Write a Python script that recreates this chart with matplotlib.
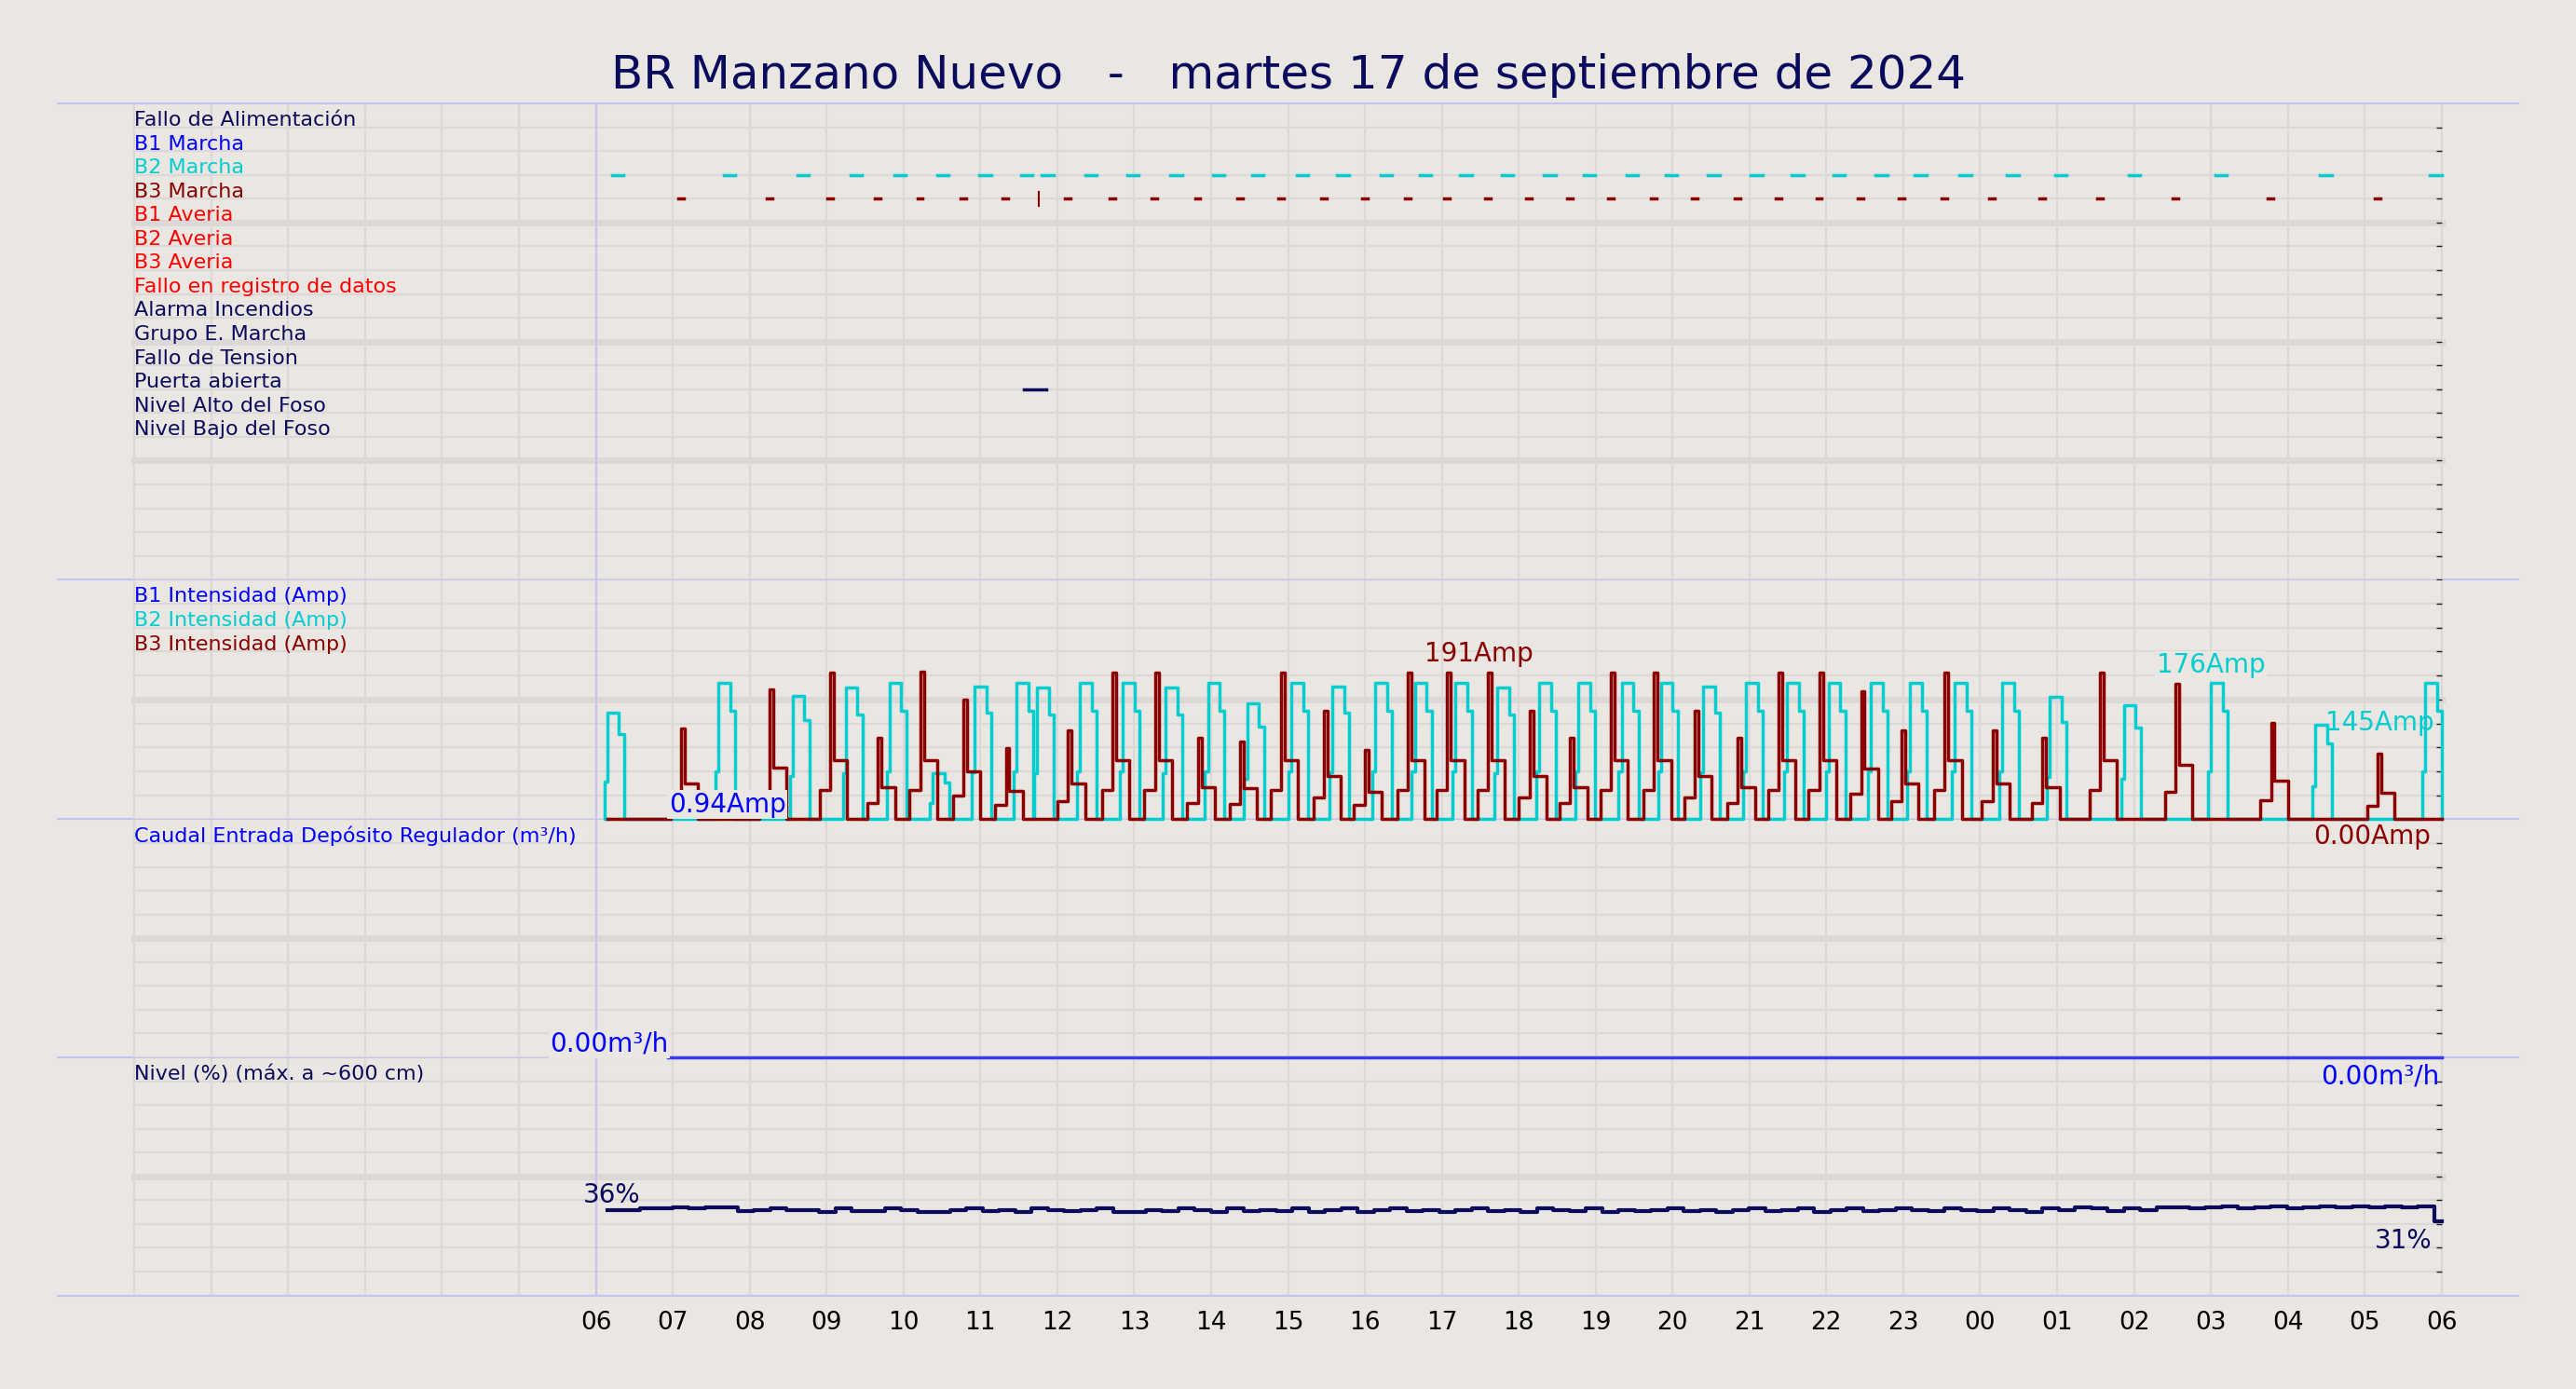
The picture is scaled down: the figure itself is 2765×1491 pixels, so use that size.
import numpy as np
import matplotlib
matplotlib.use("Agg")
from matplotlib import pyplot as plt

BG = "#eae6e1"
NAVY = "#0b0b5e"
CYAN = "#00cdd0"
DRED = "#8b0000"

title = "BR Manzano Nuevo   -   martes 17 de septiembre de 2024"
hour_labels = ["06", "07", "08", "09", "10", "11", "12", "13", "14", "15", "16", "17", "18",
               "19", "20", "21", "22", "23", "00", "01", "02", "03", "04", "05", "06"]

signal_names = ["Fallo de Alimentación", "B1 Marcha", "B2 Marcha", "B3 Marcha", "B1 Averia",
                "B2 Averia", "B3 Averia", "Fallo en registro de datos", "Alarma Incendios",
                "Grupo E. Marcha", "Fallo de Tension", "Puerta abierta", "Nivel Alto del Foso",
                "Nivel Bajo del Foso"]
signal_colors = [NAVY, "blue", CYAN, DRED, "red", "red", "red", "red", NAVY, NAVY, NAVY, NAVY, NAVY, NAVY]

# hours since 06:00
b2_marcha = [0.21, 1.66, 2.62, 3.31, 3.88, 4.44, 4.99, 5.53, 5.80, 6.36, 6.91, 7.47, 8.02, 8.53,
             9.11, 9.64, 10.20, 10.71, 11.24, 11.78, 12.33, 12.84, 13.40, 13.91, 14.46, 15.02,
             15.55, 16.09, 16.64, 17.15, 17.73, 18.35, 18.97, 19.93, 21.06, 22.42, 23.85]
b3_marcha = [1.07, 2.22, 3.01, 3.63, 4.18, 4.74, 5.29, 6.10, 6.68, 7.23, 7.79, 8.34, 8.87, 9.43,
             9.96, 10.52, 11.03, 11.56, 12.10, 12.63, 13.16, 13.72, 14.25, 14.81, 15.34, 15.87,
             16.41, 16.94, 17.50, 18.12, 18.77, 19.52, 20.50, 21.74, 23.13]
b3_blip = 5.76
puerta = (5.56, 5.86)

b2_peaks = [138, 176, 160, 170, 176, 60, 172, 176, 170, 176, 176, 170, 176, 150, 176, 172, 176,
            176, 176, 170, 176, 176, 176, 176, 172, 176, 176, 176, 176, 176, 176, 176, 158, 148,
            176, 122, 176]
b3_peaks = [117, 168, 190, 105, 191, 155, 92, 115, 190, 190, 105, 100, 190, 140, 90, 190, 190,
            190, 140, 105, 190, 190, 140, 105, 190, 190, 165, 115, 190, 115, 105, 190, 175, 125, 85]

nivel = [36, 36, 36.5, 36.5, 37, 36.5, 37, 37, 35.5, 36, 36.5, 36, 36, 35, 36.5, 35.5,
         35.5, 36.5, 36, 35, 35, 36, 36.5, 35.5, 36, 35, 36.5, 36, 35.5, 36, 36.5, 35,
         35, 36, 35.5, 36.5, 36, 35, 36.5, 35.5, 36, 35.5, 36.5, 35, 36, 36.5, 35, 36,
         36.5, 35.5, 36, 35, 36, 36.5, 35.5, 36, 35, 36.5, 36, 35.5, 36.5, 35, 36, 35.5,
         36, 36.5, 35.5, 36, 35, 36, 36.5, 35.5, 36, 36.5, 35, 36, 36.5, 35.5, 36, 36.5,
         36, 35.5, 36.5, 36, 35.5, 36.5, 36, 35, 36.5, 36, 37, 36.5, 35.5, 36.5, 36, 37,
         37, 36.5, 37, 37.5, 36.5, 37, 37.5, 36.5, 37, 37.5, 37, 37.5, 37, 37.5, 37, 37.5]
nivel_t = np.linspace(0.15, 23.9, len(nivel), endpoint=False)

def pulses(starts, peaks, shape, dur):
    x, y = [0.15], [0.0]
    for s, p in zip(starts, peaks):
        for f, v in shape:
            x.append(s - 0.1 + f * dur)
            y.append(v * p)
    x.append(24.0)
    y.append(0.0)
    return x, y

cyan_shape = [(0, 0.35), (0.12, 1.0), (0.6, 0.8), (0.8, 0.0)]
red_shape = [(0, 0.2), (0.35, 1.0), (0.47, 0.4), (0.9, 0.0)]

fig = plt.figure(figsize=(27.65, 14.91), dpi=100, facecolor=BG)
bounds = [0.9255, 0.5827, 0.4102, 0.2388, 0.0674]
nrows = [20, 10, 10, 10]
axes = []
for i in range(4):
    ax = fig.add_axes([0.0223, bounds[i + 1], 0.9554, bounds[i] - bounds[i + 1]])
    ax.set_zorder(10 - i)
    ax.patch.set_visible(False)
    ax.set_xlim(-7, 25)
    for s in ax.spines.values():
        s.set_visible(False)
    ax.set_xticks([])
    ax.set_yticks([])
    axes.append(ax)
    n = nrows[i]
    for r in range(1, n + 1):
        yy = 1 - r / n
        thick = (r % 5 == 0) and r != n
        ax.plot([-6, 24], [yy, yy], transform=ax.get_xaxis_transform(),
                color="#ddd8d8", lw=5 if thick else 1.6, zorder=0)
        ax.plot([23.97], [yy], transform=ax.get_xaxis_transform(), marker="_",
                color="#222222", ms=5, zorder=1)
    for h in range(-6, 25):
        ax.axvline(h, color="#ddd8d8", lw=1.6, zorder=0)
    ax.axvline(0, color="#c4c4ee", lw=1.5, zorder=0)
    ax.plot([-7, 25], [1, 1], transform=ax.get_xaxis_transform(), color="#c4c4f4", lw=1.5, clip_on=False)
axes[-1].plot([-7, 25], [0, 0], transform=axes[-1].get_xaxis_transform(), color="#c4c4f4", lw=1.5, clip_on=False)

# signals panel
ax = axes[0]
ax.set_ylim(20, 0)
for i, (name, c) in enumerate(zip(signal_names, signal_colors)):
    ax.text(-6, i + 0.7, name, color=c, fontsize=16, va="center")
for t in b2_marcha:
    ax.plot([t, t + 0.15], [3, 3], color=CYAN, lw=2.5)
for t in b3_marcha:
    ax.plot([t, t + 0.07], [4, 4], color=DRED, lw=2.5)
ax.plot([b3_blip, b3_blip], [3.7, 4.3], color=DRED, lw=1.5)
ax.plot(puerta, [12, 12], color=NAVY, lw=2.5)

# intensity panel
ax = axes[1]
ax.set_ylim(0, 310)
for i, (name, c) in enumerate(zip(["B1 Intensidad (Amp)", "B2 Intensidad (Amp)", "B3 Intensidad (Amp)"],
                                  ["blue", CYAN, DRED])):
    ax.text(-6, 310 - (i + 0.7) * 31, name, color=c, fontsize=16, va="center")
cx, cy = pulses(b2_marcha, b2_peaks, cyan_shape, 0.32)
rx, ry = pulses(b3_marcha, b3_peaks, red_shape, 0.4)
ax.plot(cx, cy, drawstyle="steps-post", color=CYAN, lw=2.5, zorder=3, clip_on=False)
ax.plot(rx, ry, drawstyle="steps-post", color=DRED, lw=2.5, zorder=4, clip_on=False)
box = dict(facecolor=BG, edgecolor="none", pad=1)
ax.text(11.48, 214, "191Amp", color=DRED, fontsize=20, ha="center", va="center")
ax.text(21.0, 199, "176Amp", color=CYAN, fontsize=20, ha="center", va="center", bbox=box)
ax.text(23.2, 125, "145Amp", color=CYAN, fontsize=20, ha="center", va="center", zorder=5)
ax.text(1.71, 19, "0.94Amp", color="blue", fontsize=20, ha="center", va="center", bbox=box, zorder=6)
ax.text(23.1, -23, "0.00Amp", color=DRED, fontsize=20, ha="center", va="center", clip_on=False, zorder=6)

# caudal panel
ax = axes[2]
ax.set_ylim(0, 100)
ax.text(-6, 100 - 0.7 * 10, "Caudal Entrada Depósito Regulador (m³/h)", color="blue", fontsize=16, va="center")
ax.plot([0.94, 24], [0, 0], color="#3a3af0", lw=2.5, clip_on=False, zorder=4)
ax.text(0.17, 5.5, "0.00m³/h", color="blue", fontsize=20, ha="center", va="center", bbox=box, zorder=6)
ax.text(23.2, -8, "0.00m³/h", color="blue", fontsize=20, ha="center", va="center", clip_on=False, zorder=6)

# nivel panel
ax = axes[3]
ax.set_ylim(0, 100)
ax.text(-6, 100 - 0.7 * 10, "Nivel (%) (máx. a ~600 cm)", color=NAVY, fontsize=16, va="center")
ax.plot(list(nivel_t) + [23.9, 24.0], nivel + [31, 31], drawstyle="steps-post", color=NAVY, lw=3)
ax.text(0.21, 42, "36%", color=NAVY, fontsize=20, ha="center", va="center")
ax.text(23.5, 23, "31%", color=NAVY, fontsize=20, ha="center", va="center")
ax.set_xticks(range(25))
ax.set_xticklabels(hour_labels, fontsize=19)
ax.tick_params(axis="x", length=0, pad=12)

fig.text(0.5, 0.946, title, color=NAVY, fontsize=36, ha="center", va="center")
fig.savefig("out.png", dpi=100, facecolor=BG)
